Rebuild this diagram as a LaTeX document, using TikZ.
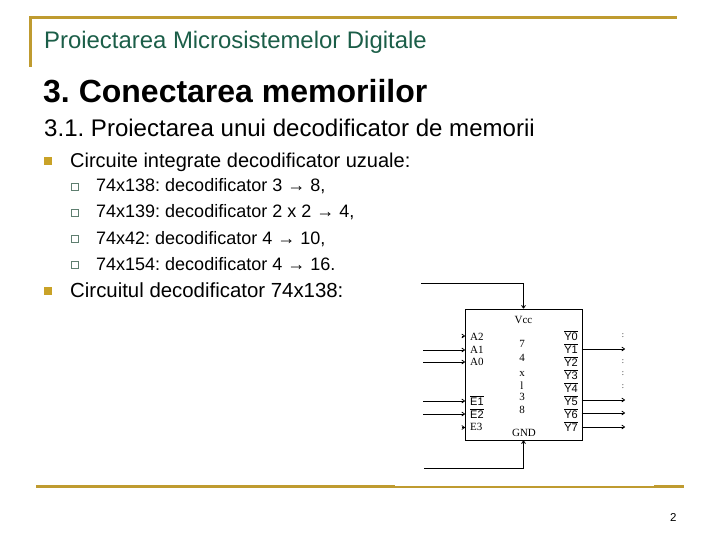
\documentclass[tikz,border=0pt]{standalone}
\usepackage{fontspec}
\setmainfont{Liberation Sans}
\newfontfamily\chipfont{Liberation Serif}
\usepackage{xcolor}
\usetikzlibrary{arrows.meta}
\definecolor{rulegold}{HTML}{BF9B30}
\definecolor{headgreen}{HTML}{1B5E48}
\definecolor{bulletgold}{HTML}{C9A227}
\definecolor{boxgreen}{HTML}{5F7F70}
\frenchspacing
\tikzset{
	txt/.style={anchor=base west,inner sep=0pt,black},
	bullet/.style={fill=bulletgold,minimum size=8pt,inner sep=0pt},
	subbullet/.style={draw=boxgreen,fill=white,line width=1pt,minimum size=6.5pt,inner sep=0pt},
	pin/.style={anchor=base,inner sep=0pt,font=\chipfont\fontsize{11}{11}\selectfont},
	wire/.style={black,line width=0.8pt},
	arrowwire/.style={wire,-{To[length=3.5pt,width=4.5pt]}}
}
\begin{document}
\begin{tikzpicture}[x=1pt,y=-1pt]
	\useasboundingbox (0,0) rectangle (720,540);

	% frame
	\draw[rulegold,line width=3pt] (30,67)--(30,18)--(677,18);
	\draw[rulegold,line width=3pt] (36,486.5)--(395,486.5);
	\draw[rulegold,line width=2pt] (395,486.5)--(654,486.5);
	\draw[rulegold,line width=3pt] (654,486.5)--(684,486.5);

	% text
	\node[txt,headgreen,font=\fontsize{23.9}{26}\selectfont] (head) at (44,49) {Proiectarea Microsistemelor Digitale};
	\node[txt,font=\bfseries\fontsize{32}{36}\selectfont] (title) at (43,103) {3. Conectarea memoriilor};
	\node[txt,font=\fontsize{24.05}{26}\selectfont] (subtitle) at (44,137) {3.1. Proiectarea unui decodificator de memorii};
	\node[txt,font=\fontsize{20}{24}\selectfont] (item1) at (70,168) {Circuite integrate decodificator uzuale:};
	\node[txt,font=\fontsize{20.4}{24}\selectfont] (item2) at (70,297) {Circuitul decodificator 74x138:};
	\node[bullet] (bull1) at (48,161.5) {};
	\node[bullet] (bull2) at (48,290.5) {};

	\foreach \y/\t [count=\i] in {192/{74x138: decodificator 3 → 8,},
		218/{74x139: decodificator 2 x 2 → 4,},
		244/{74x42: decodificator 4 → 10,},
		270/{74x154: decodificator 4 → 16.}}{
		\node[txt,font=\fontsize{18}{20}\selectfont] (sub\i) at (96,\y) {\t};
		\node[subbullet] (subb\i) at (75,\y-5) {};
	}

	\node[txt,font=\fontsize{11.5}{14}\selectfont] (page) at (670,521) {2};

	% chip
	\node[draw,line width=0.9pt,minimum width=117pt,minimum height=131pt,inner sep=0pt] (chip) at (523.5,374.5) {};
	\node[pin] (vcc) at (523.5,323) {Vcc};
	\node[pin] (gnd) at (524,436) {GND};
	\foreach \y/\t [count=\i] in {347/7,361/4,376/x,389/l,400/3,413/8}{
		\node[pin] (mark\i) at (522,\y) {\t};
	}

	% pins
	\foreach \y/\t/\n in {340/A2/atwo,353/A1/aone,365/A0/azero,405/$\overline{\mathrm{E1}}$/eone,418/$\overline{\mathrm{E2}}$/etwo,430/E3/ethree}{
		\node[pin,anchor=base west] (\n) at (470,\y) {\t};
	}
	\foreach \y/\t/\n in {340/0/yzero,353/1/yone,366/2/ytwo,379/3/ythree,392/4/yfour,405/5/yfive,418/6/ysix,431/7/yseven}{
		\node[pin,anchor=base east] (\n) at (578,\y) {$\overline{\mathrm{Y\t}}$};
	}

	% input and output wires
	\coordinate (vccfree) at (421,283);
	\coordinate (gndfree) at (424,468);
	\draw[arrowwire] (vccfree) -| (chip.north);
	\draw[arrowwire] (gndfree) -| (chip.south);

	\foreach \n/\y in {aone/350,azero/362,eone/401,etwo/414}{
		\coordinate (\n in) at (423,\y);
		\coordinate (\n pin) at (465,\y);
		\draw[arrowwire] (\n in) -- (\n pin);
	}
	\foreach \n/\y in {yone/349,yfive/400,ysix/413,yseven/427}{
		\coordinate (\n pin) at (581.5,\y);
		\coordinate (\n out) at (625,\y);
		\draw[arrowwire] (\n pin) -- (\n out);
	}
	% stubs of the unused pins
	\foreach \n/\y in {atwo/336,ethree/427.5}{
		\coordinate (\n in) at (462,\y);
		\coordinate (\n pin) at (465,\y);
		\draw[arrowwire] (\n in) -- (\n pin);
	}
	\foreach \n/\y in {yzero/336,ytwo/362,ythree/374,yfour/387}{
		\node[inner sep=0pt,font=\chipfont\fontsize{8}{8}\selectfont] (\n out) at (623,\y) {:};
	}
\end{tikzpicture}
\end{document}
